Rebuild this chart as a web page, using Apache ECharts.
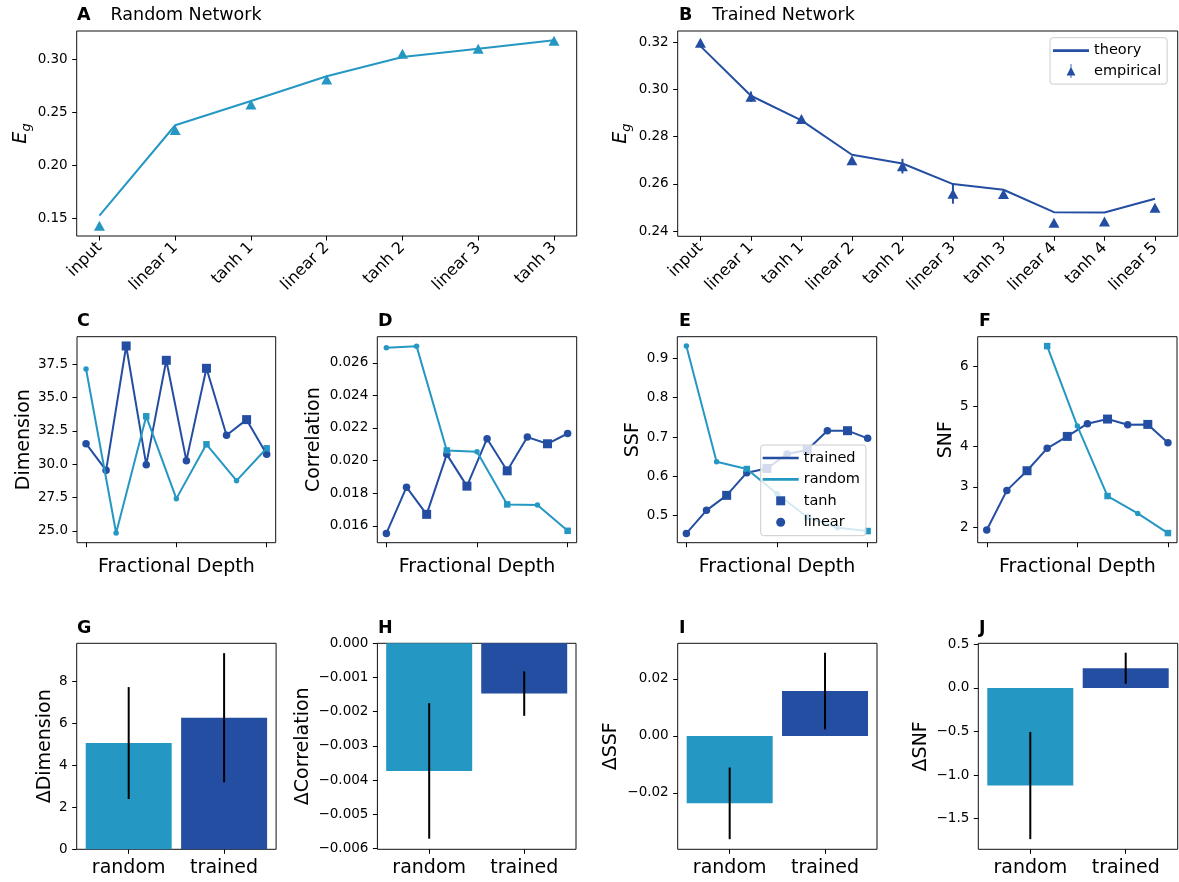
<!DOCTYPE html>
<html><head><meta charset="utf-8">
<script src="https://cdn.jsdelivr.net/npm/echarts@6/dist/echarts.min.js"></script>
<style>html,body{margin:0;padding:0;background:#fff}#c{width:1179px;height:882px}</style>
</head><body><div id="c"></div>
<script>
// ---------------- data ----------------
const layersRandom = ['input', 'linear 1', 'tanh 1', 'linear 2', 'tanh 2', 'linear 3', 'tanh 3'];
const layersTrained = ['input', 'linear 1', 'tanh 1', 'linear 2', 'tanh 2', 'linear 3', 'tanh 3', 'linear 4', 'tanh 4', 'linear 5'];

const egRandomTheory = [0.1525, 0.238, 0.261, 0.2844, 0.3026, 0.3104, 0.3184];
const egRandomEmpirical = [0.143, 0.2335, 0.2576, 0.2814, 0.3057, 0.3104, 0.318];

const egTrainedTheory = [0.3183, 0.2973, 0.2869, 0.2723, 0.2686, 0.2599, 0.2575, 0.248, 0.2479, 0.2537];
const egTrainedEmpirical = [0.3197, 0.2969, 0.2874, 0.2700, 0.2675, 0.2558, 0.2557, 0.2435, 0.2441, 0.2499];
const egTrainedErr = [0.0005, 0.0022, 0.0005, 0.0005, 0.0031, 0.0042, 0.0006, 0.0005, 0.0005, 0.0005];

const dimTrained = [31.55, 29.55, 38.875, 29.975, 37.8, 30.275, 37.2, 32.175, 33.35, 30.75];
const dimRandom = [37.15, 24.85, 33.6, 27.425, 31.5, 28.775, 31.2];

const corrTrained = [0.01553, 0.01837, 0.01670, 0.02038, 0.01843, 0.02134, 0.01937, 0.02144, 0.02103, 0.02166];
const corrRandom = [0.02692, 0.02702, 0.02062, 0.02054, 0.01731, 0.01727, 0.01569];

const ssfTrained = [0.455, 0.5136, 0.5517, 0.6093, 0.620, 0.657, 0.667, 0.7161, 0.7161, 0.6966];
const ssfRandom = [0.9314, 0.6373, 0.6186, 0.556, 0.4966, 0.4695, 0.461];

const snfTrained = [1.925, 2.913, 3.402, 3.959, 4.257, 4.573, 4.689, 4.548, 4.556, 4.100];
const snfRandom = [null, null, 6.506, 4.514, 2.772, 2.34, 1.85];

const barGroups = ['random', 'trained'];
const dDimension = [5.07, 6.28];
const dDimensionErr = [2.67, 3.08];
const dCorrelation = [-0.00373, -0.00147];
const dCorrelationErr = [0.00198, 0.00065];
const dSSF = [-0.02365, 0.01573];
const dSSFErr = [0.01257, 0.01345];
const dSNF = [-1.1205, 0.2256];
const dSNFErr = [0.615, 0.178];

const ticksEgRandom = [0.15, 0.20, 0.25, 0.30];
const ticksEgTrained = [0.24, 0.26, 0.28, 0.30, 0.32];
const ticksDim = [25.0, 27.5, 30.0, 32.5, 35.0, 37.5];
const ticksCorr = [0.016, 0.018, 0.020, 0.022, 0.024, 0.026];
const ticksSSF = [0.5, 0.6, 0.7, 0.8, 0.9];
const ticksSNF = [2, 3, 4, 5, 6];
const ticksDepth = [0, 0.5, 1];
const ticksDDim = [0, 2, 4, 6, 8];
const ticksDCorr = [0, -0.001, -0.002, -0.003, -0.004, -0.005, -0.006];
const ticksDSSF = [-0.02, 0.00, 0.02];
const ticksDSNF = [-1.5, -1.0, -0.5, 0.0, 0.5];

// ---------------- styling ----------------
const LIGHT = '#2597c3';
const DARK = '#234ea1';
const FONT = 'DejaVu Sans';
const TICK_FS = 13.5;
const NAME_FS = 19;

const grids = [], xAxes = [], yAxes = [], series = [], titles = [];
const minus = s => s.replace('-', '\u2212');

function addPanel(box, xa, ya) {
  const idx = grids.length;
  grids.push({left: box[0], top: box[1], width: box[2], height: box[3], show: true,
    borderColor: '#111', borderWidth: 1, backgroundColor: 'transparent'});
  const tick = {show: true, length: 4.5, inside: false, lineStyle: {color: '#000', width: 1}};
  xAxes.push({gridIndex: idx, type: 'value', min: xa.min, max: xa.max, position: 'bottom',
    splitLine: {show: false}, axisLine: {show: false, onZero: false},
    axisTick: Object.assign({customValues: xa.ticks}, tick),
    axisLabel: {show: xa.labels !== false, customValues: xa.ticks, formatter: xa.fmt,
      rotate: xa.rotate || 0, margin: xa.margin || 8, fontSize: xa.fs || TICK_FS,
      color: '#000', fontFamily: FONT},
    name: xa.name || '', nameLocation: 'middle', nameGap: xa.nameGap || 12,
    nameTextStyle: {fontSize: NAME_FS, color: '#000', fontFamily: FONT}});
  yAxes.push({gridIndex: idx, type: 'value', min: ya.min, max: ya.max, position: 'left',
    splitLine: {show: false}, axisLine: {show: false, onZero: false},
    axisTick: Object.assign({customValues: ya.ticks}, tick),
    axisLabel: {customValues: ya.ticks, formatter: ya.fmt, margin: 9, fontSize: TICK_FS,
      color: '#000', fontFamily: FONT},
    name: ya.name, nameLocation: 'middle', nameRotate: 90, nameGap: ya.nameGap,
    nameTextStyle: Object.assign({fontSize: NAME_FS, color: '#000', fontFamily: FONT}, ya.nameStyle || {})});
  return idx;
}

function addTitle(letter, text, x, y) {
  titles.push({left: x, top: y, padding: 0,
    text: text ? '{b|' + letter + '}{n|' + text + '}' : '{b|' + letter + '}',
    textStyle: {fontWeight: 'normal', rich: {
      b: {fontWeight: 'bold', fontSize: 17.5, color: '#000', fontFamily: FONT, lineHeight: 20},
      n: {fontWeight: 'normal', fontSize: 17.5, color: '#000', fontFamily: FONT, padding: [0, 0, 0, 20], lineHeight: 20}
    }}});
}

function errSeries(idx, pts, color, w) {
  return {type: 'custom', xAxisIndex: idx, yAxisIndex: idx, data: pts, silent: true, z: 3,
    encode: {x: 0, y: [1, 2]},
    renderItem: (params, api) => {
      const a = api.coord([api.value(0), api.value(1)]);
      const b = api.coord([api.value(0), api.value(2)]);
      return {type: 'line', shape: {x1: a[0], y1: a[1], x2: b[0], y2: b[1]},
        style: {stroke: color, lineWidth: w}};
    }};
}

const EgName = {name: '{e|E}{g|g}', nameStyle: {rich: {
  e: {fontSize: 19, fontStyle: 'italic', fontFamily: FONT, color: '#000', lineHeight: 24, verticalAlign: 'middle'},
  g: {fontSize: 13, fontStyle: 'italic', fontFamily: FONT, color: '#000', lineHeight: 14, verticalAlign: 'bottom'}
}}};

const solid = c => ({color: c, opacity: 1});

// ---------- Panel A ----------
let p = addPanel([76.7, 31, 500, 205],
  {min: -0.3, max: 6.3, ticks: layersRandom.map((_, i) => i), fmt: v => layersRandom[Math.round(v)], rotate: 45, margin: 9, fs: 16},
  Object.assign({min: 0.1332, max: 0.3272, ticks: ticksEgRandom, fmt: v => v.toFixed(2), nameGap: 44}, EgName));
addTitle('A', 'Random Network', 77, 5);
series.push({type: 'line', name: 'A theory', xAxisIndex: p, yAxisIndex: p, symbol: 'none',
  data: egRandomTheory.map((v, i) => [i, v]), lineStyle: {color: LIGHT, width: 2}, itemStyle: solid(LIGHT)});
series.push({type: 'scatter', name: 'A empirical', xAxisIndex: p, yAxisIndex: p, symbol: 'triangle', symbolSize: [11, 10],
  data: egRandomEmpirical.map((v, i) => [i, v]), itemStyle: solid(LIGHT)});

// ---------- Panel B ----------
p = addPanel([677.7, 31, 500, 205.3],
  {min: -0.45, max: 9.45, ticks: layersTrained.map((_, i) => i), fmt: v => layersTrained[Math.round(v)], rotate: 45, margin: 9, fs: 16},
  Object.assign({min: 0.2378, max: 0.3247, ticks: ticksEgTrained, fmt: v => v.toFixed(2), nameGap: 45}, EgName));
addTitle('B', 'Trained Network', 679, 5);
series.push({type: 'line', name: 'theory', xAxisIndex: p, yAxisIndex: p, symbol: 'none',
  data: egTrainedTheory.map((v, i) => [i, v]), lineStyle: {color: DARK, width: 2}, itemStyle: solid(DARK)});
series.push(errSeries(p, egTrainedEmpirical.map((v, i) => [i, v - egTrainedErr[i], v + egTrainedErr[i]]), DARK, 2));
series.push({type: 'scatter', name: 'empirical', xAxisIndex: p, yAxisIndex: p, symbol: 'triangle', symbolSize: [11, 10],
  data: egTrainedEmpirical.map((v, i) => [i, v]), itemStyle: solid(DARK)});

// ---------- Panels C-F ----------
const isTanh = n => n.indexOf('tanh') === 0;
function depthPanel(box, letter, lx, yName, yGap, yr, trained, random) {
  const idx = addPanel(box,
    {min: -0.05, max: 1.05, ticks: ticksDepth, labels: false, name: 'Fractional Depth', nameGap: 15},
    {min: yr.min, max: yr.max, ticks: yr.ticks, fmt: yr.fmt, name: yName, nameGap: yGap});
  addTitle(letter, '', lx, 311.7);
  const tr = trained.map((v, i) => [i / (layersTrained.length - 1), v, layersTrained[i]]);
  const rd = random.map((v, i) => [i / (layersRandom.length - 1), v, layersRandom[i]]).filter(d => d[1] !== null);
  const common = {xAxisIndex: idx, yAxisIndex: idx};
  series.push(Object.assign({type: 'line', name: 'trained', symbol: 'none', data: tr.map(d => [d[0], d[1]]),
    lineStyle: {color: DARK, width: 2}, itemStyle: solid(DARK)}, common));
  series.push(Object.assign({type: 'scatter', name: 'tanh', symbol: 'rect', symbolSize: 9,
    data: tr.filter(d => isTanh(d[2])).map(d => [d[0], d[1]]), itemStyle: solid(DARK)}, common));
  series.push(Object.assign({type: 'scatter', name: 'linear', symbol: 'circle', symbolSize: 7.5,
    data: tr.filter(d => !isTanh(d[2])).map(d => [d[0], d[1]]), itemStyle: solid(DARK)}, common));
  series.push(Object.assign({type: 'line', name: 'random', symbol: 'none', data: rd.map(d => [d[0], d[1]]),
    lineStyle: {color: LIGHT, width: 2}, itemStyle: solid(LIGHT)}, common));
  series.push(Object.assign({type: 'scatter', name: 'random tanh', symbol: 'rect', symbolSize: 6.5,
    data: rd.filter(d => isTanh(d[2])).map(d => [d[0], d[1]]), itemStyle: solid(LIGHT)}, common));
  series.push(Object.assign({type: 'scatter', name: 'random linear', symbol: 'circle', symbolSize: 5.5,
    data: rd.filter(d => !isTanh(d[2])).map(d => [d[0], d[1]]), itemStyle: solid(LIGHT)}, common));
}
depthPanel([77, 336.7, 198.7, 206], 'C', 77, 'Dimension', 43,
  {min: 24.12, max: 39.57, ticks: ticksDim, fmt: v => v.toFixed(1)}, dimTrained, dimRandom);
depthPanel([377.3, 336.7, 199.4, 206], 'D', 378, 'Correlation', 54,
  {min: 0.01496, max: 0.0276, ticks: ticksCorr, fmt: v => v.toFixed(3)}, corrTrained, corrRandom);
depthPanel([677.3, 336.7, 199.4, 206], 'E', 679, 'SSF', 33,
  {min: 0.4314, max: 0.955, ticks: ticksSSF, fmt: v => v.toFixed(1)}, ssfTrained, ssfRandom);
depthPanel([977.7, 336.7, 199.3, 206], 'F', 979, 'SNF', 22,
  {min: 1.61, max: 6.74, ticks: ticksSNF, fmt: v => String(Math.round(v))}, snfTrained, snfRandom);

// ---------- Panels G-J ----------
function barPanel(box, letter, lx, yName, yGap, yr, vals, errs) {
  const idx = addPanel(box,
    {min: -0.545, max: 1.545, ticks: barGroups.map((_, i) => i), fmt: v => barGroups[Math.round(v)], fs: 19, margin: 9},
    {min: yr.min, max: yr.max, ticks: yr.ticks, fmt: yr.fmt, name: yName, nameGap: yGap});
  addTitle(letter, '', lx, 618.3);
  const cols = [LIGHT, DARK];
  series.push({type: 'bar', name: yName, xAxisIndex: idx, yAxisIndex: idx, barWidth: 86,
    data: vals.map((v, i) => ({value: [i, v], itemStyle: solid(cols[i])}))});
  series.push(errSeries(idx, vals.map((v, i) => [i, v - errs[i], v + errs[i]]), '#000', 2));
}
barPanel([76.7, 643.3, 199.4, 206], 'G', 77, '\u0394Dimension', 22,
  {min: 0, max: 9.83, ticks: ticksDDim, fmt: v => String(Math.round(v))}, dDimension, dDimensionErr);
barPanel([377.4, 643.3, 198.6, 206], 'H', 378, '\u0394Correlation', 65,
  {min: -0.00602, max: 0, ticks: ticksDCorr, fmt: v => minus(v.toFixed(3))}, dCorrelation, dCorrelationErr);
barPanel([677.7, 643.3, 199.3, 206], 'I', 679, '\u0394SSF', 57,
  {min: -0.03977, max: 0.0325, ticks: ticksDSSF, fmt: v => minus((Math.abs(v) < 1e-9 ? 0 : v).toFixed(2))}, dSSF, dSSFErr);
barPanel([978.3, 643.3, 199.4, 206], 'J', 979, '\u0394SNF', 48,
  {min: -1.852, max: 0.5115, ticks: ticksDSNF, fmt: v => minus((Math.abs(v) < 1e-9 ? 0 : v).toFixed(1))}, dSNF, dSNFErr);

// ---------- legends ----------
const LINE_ICON = 'path://M0,0H40V3H0Z';
const SQUARE_ICON = 'path://M0,0H10V10H0Z';
const EMP_ICON = 'path://M4.5,-3H5.5V13H4.5Z M5,0L10,10L0,10Z';
const legendBox = {orient: 'vertical', selectedMode: false, backgroundColor: 'rgba(255,255,255,0.8)',
  borderColor: '#cccccc', borderWidth: 1, borderRadius: 3, itemWidth: 36,
  itemStyle: {opacity: 1},
  textStyle: {fontSize: 14.5, color: '#000', fontFamily: FONT}};
const legends = [
  Object.assign({}, legendBox, {left: 1050, top: 37.7, itemHeight: 14, itemGap: 5.4, padding: [5.5, 6, 5.5, 3],
    data: [{name: 'theory', icon: LINE_ICON}, {name: 'empirical', icon: EMP_ICON}]}),
  Object.assign({}, legendBox, {left: 760.7, top: 445, itemHeight: 9, itemGap: 6.4, padding: [5.5, 6, 6, 2],
    data: [{name: 'trained', icon: LINE_ICON}, {name: 'random', icon: LINE_ICON},
           {name: 'tanh', icon: SQUARE_ICON}, {name: 'linear', icon: 'circle'}]})
];

const chart = echarts.init(document.getElementById('c'), null, {renderer: 'canvas'});
chart.setOption({
  animation: false,
  backgroundColor: '#fff',
  textStyle: {fontFamily: FONT},
  title: titles,
  legend: legends,
  grid: grids,
  xAxis: xAxes,
  yAxis: yAxes,
  series: series
});
</script></body></html>
